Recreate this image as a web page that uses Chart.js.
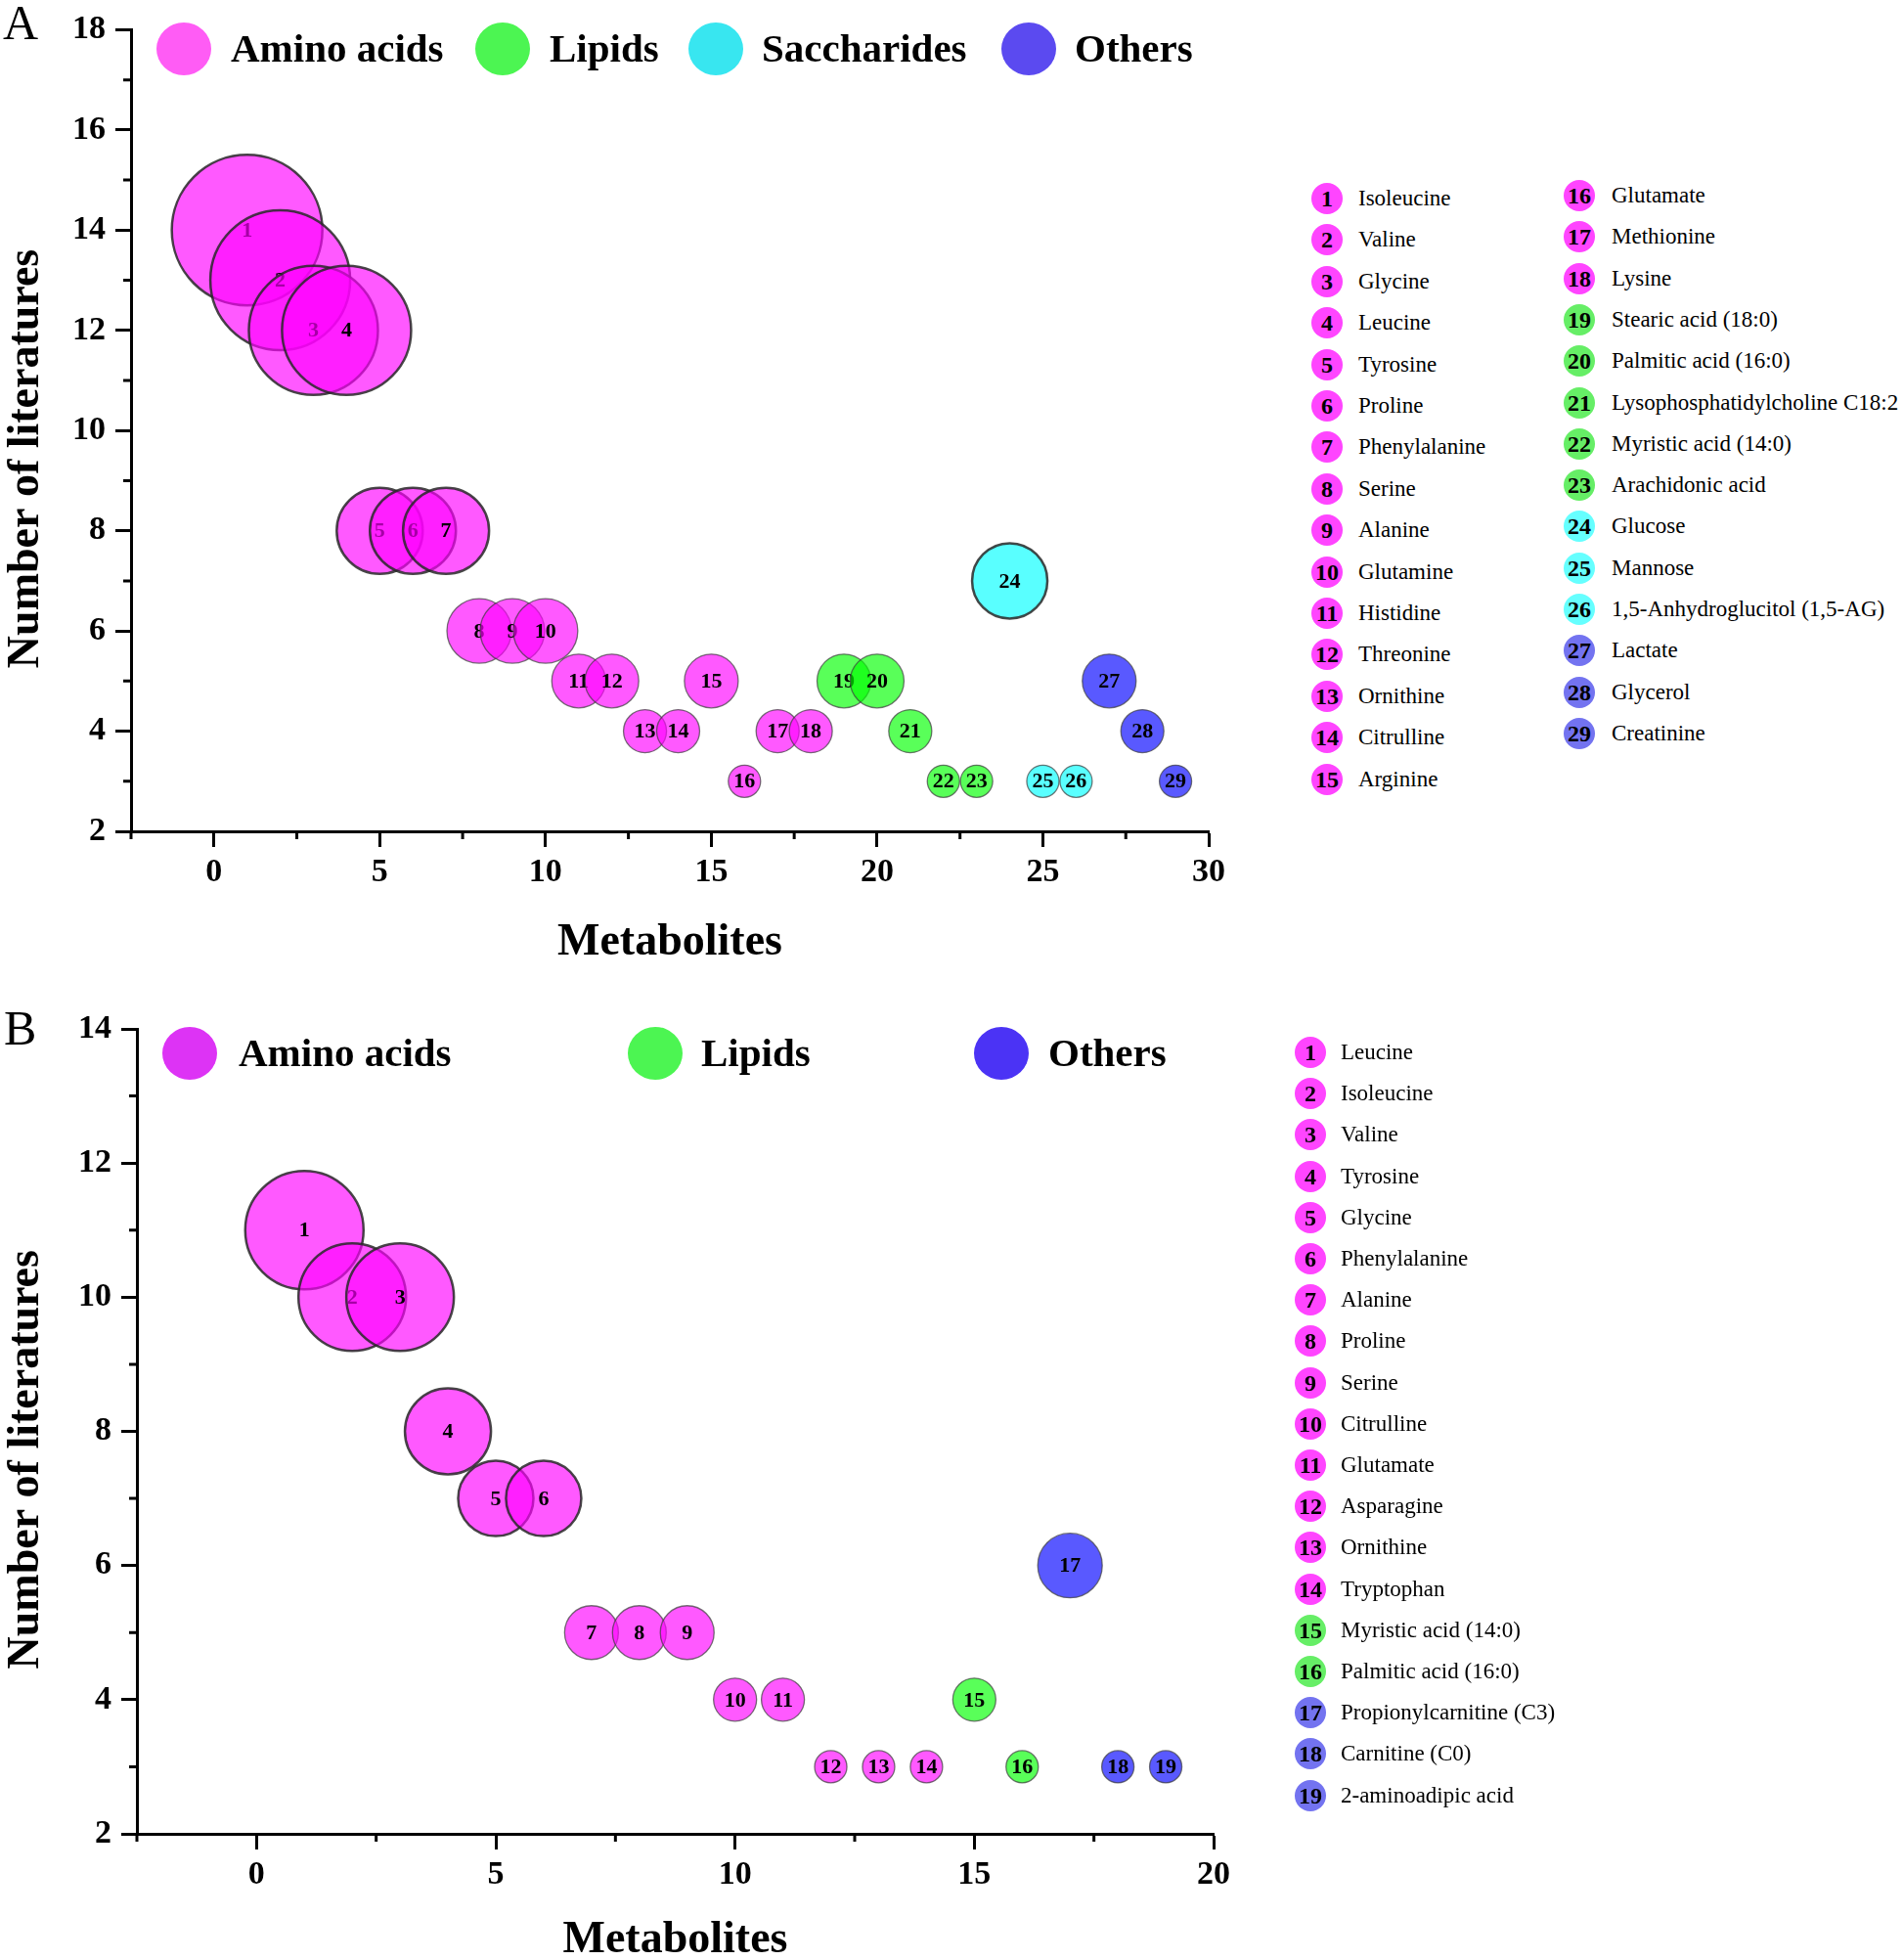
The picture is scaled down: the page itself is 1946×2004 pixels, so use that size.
<!DOCTYPE html>
<html>
<head>
<meta charset="utf-8">
<script src="https://cdn.jsdelivr.net/npm/chart.js@4.4.1/dist/chart.umd.min.js"></script>
<style>
  body { margin: 0; background: #fff; }
  #wrap { position: relative; width: 1946px; height: 2004px; overflow: hidden; font-family: "Liberation Serif", "Times New Roman", serif; color: #000; }
  canvas { position: absolute; left: 0; }
  .tag { position: absolute; font-size: 50px; line-height: 50px; }
  .key { position: absolute; border-radius: 50%; }
  .keyText { position: absolute; font-size: 41px; font-weight: bold; line-height: 50px; white-space: nowrap; }
  .dot { position: absolute; width: 32px; height: 32px; border-radius: 50%; font-weight: bold; font-size: 24px; line-height: 33px; text-align: center; }
  .name { position: absolute; font-size: 23px; line-height: 32px; white-space: nowrap; }
</style>
</head>
<body>
<div id="wrap">
  <canvas id="chartA" width="1300" height="1010" style="top:0px"></canvas>
  <canvas id="chartB" width="1300" height="1010" style="top:1020px"></canvas>
  <div class="tag" style="left:3px;top:-2px">A</div>
  <div class="tag" style="left:4px;top:1026px">B</div>
</div>
<script>
// ---- data ----
const categories = ['Amino acids', 'Lipids', 'Saccharides', 'Others'];

const namesA = ['Isoleucine', 'Valine', 'Glycine', 'Leucine', 'Tyrosine', 'Proline', 'Phenylalanine',
  'Serine', 'Alanine', 'Glutamine', 'Histidine', 'Threonine', 'Ornithine', 'Citrulline', 'Arginine',
  'Glutamate', 'Methionine', 'Lysine', 'Stearic acid (18:0)', 'Palmitic acid (16:0)',
  'Lysophosphatidylcholine C18:2', 'Myristic acid (14:0)', 'Arachidonic acid', 'Glucose', 'Mannose',
  '1,5-Anhydroglucitol (1,5-AG)', 'Lactate', 'Glycerol', 'Creatinine'];
const groupsA = [0,0,0,0,0,0,0,0,0,0,0,0,0,0,0,0,0,0,1,1,1,1,1,2,2,2,3,3,3];
const countsA = [14,13,12,12,8,8,8,6,6,6,5,5,4,4,5,3,4,4,5,5,4,3,3,7,3,3,5,4,3];

const namesB = ['Leucine', 'Isoleucine', 'Valine', 'Tyrosine', 'Glycine', 'Phenylalanine', 'Alanine',
  'Proline', 'Serine', 'Citrulline', 'Glutamate', 'Asparagine', 'Ornithine', 'Tryptophan',
  'Myristic acid (14:0)', 'Palmitic acid (16:0)', 'Propionylcarnitine (C3)', 'Carnitine (C0)',
  '2-aminoadipic acid'];
const groupsB = [0,0,0,0,0,0,0,0,0,0,0,0,0,0,1,1,3,3,3];
const countsB = [11,10,10,8,7,7,5,5,5,4,4,3,3,3,4,3,6,3,3];

const xTicksA = [0, 5, 10, 15, 20, 25, 30];
const xMinorA = [-2.5, 2.5, 7.5, 12.5, 17.5, 22.5, 27.5];
const yTicksA = [2, 4, 6, 8, 10, 12, 14, 16, 18];
const yMinorA = [3, 5, 7, 9, 11, 13, 15, 17];

const xTicksB = [0, 5, 10, 15, 20];
const xMinorB = [-2.5, 2.5, 7.5, 12.5, 17.5];
const yTicksB = [2, 4, 6, 8, 10, 12, 14];
const yMinorB = [3, 5, 7, 9, 11, 13];

// ---- styles ----
const FONT = '"Liberation Serif", "Times New Roman", serif';
const bubbleFill = ['rgba(255,0,255,0.65)', 'rgba(0,255,0,0.65)', 'rgba(0,255,255,0.65)', 'rgba(0,0,255,0.65)'];
const dotFill = ['#ff45ff', '#66ee66', '#66ffff', '#7373f0'];
const PX_PER_COUNT = 5.5;

// number written in the middle of each bubble, right after that bubble is drawn
const bubbleText = {
  id: 'bubbleText',
  afterDatasetDraw(chart, args) {
    const pt = args.meta.data[0];
    if (!pt) return;
    const ctx = chart.ctx;
    ctx.save();
    ctx.font = 'bold 22px ' + FONT;
    ctx.fillStyle = '#000';
    ctx.textAlign = 'center';
    ctx.textBaseline = 'middle';
    ctx.fillText(chart.data.datasets[args.index].label, pt.x, pt.y + 1);
    ctx.restore();
  }
};

// short minor ticks between the labelled ones
const minorTicks = {
  id: 'minorTicks',
  afterDraw(chart, args, opts) {
    const ctx = chart.ctx;
    const { x, y } = chart.scales;
    ctx.save();
    ctx.strokeStyle = '#000';
    ctx.lineWidth = 3;
    ctx.beginPath();
    opts.x.forEach(v => {
      const px = x.getPixelForValue(v);
      ctx.moveTo(px, y.bottom);
      ctx.lineTo(px, y.bottom + 8);
    });
    opts.y.forEach(v => {
      const py = y.getPixelForValue(v);
      ctx.moveTo(x.left, py);
      ctx.lineTo(x.left - 8, py);
    });
    ctx.stroke();
    ctx.restore();
  }
};

function makePanel(id, counts, groups, cfg) {
  const datasets = counts.map((v, i) => ({
    label: String(i + 1),
    data: [{ x: i + 1, y: v, r: v * PX_PER_COUNT }],
    backgroundColor: bubbleFill[groups[i]],
    borderColor: v >= 7 ? 'rgba(40,40,40,0.85)' : 'rgba(60,60,60,0.7)',
    borderWidth: v >= 7 ? 2.5 : 1.3,
    order: -(i + 1),
    clip: false
  }));

  const tickFont = { family: FONT, size: 34, weight: 'bold' };
  const titleFont = { family: FONT, size: 46, weight: 'bold' };

  return new Chart(document.getElementById(id), {
    type: 'bubble',
    data: { datasets },
    plugins: [bubbleText, minorTicks],
    options: {
      responsive: false,
      animation: false,
      events: [],
      layout: { autoPadding: false, padding: { left: 0, top: cfg.top, right: cfg.right, bottom: 0 } },
      plugins: {
        legend: { display: false },
        tooltip: { enabled: false },
        minorTicks: { x: cfg.xMinor, y: cfg.yMinor }
      },
      scales: {
        x: {
          type: 'linear',
          min: -2.5,
          max: cfg.xMax,
          afterBuildTicks: s => { s.ticks = cfg.xTicks.map(v => ({ value: v })); },
          afterFit: s => { s.height = cfg.xHeight; },
          grid: { drawOnChartArea: false, tickLength: 16, tickWidth: 3, tickColor: '#000' },
          border: { color: '#000', width: 3 },
          ticks: { color: '#000', font: tickFont, padding: 6, maxRotation: 0 },
          title: { display: true, text: 'Metabolites', color: '#000', font: titleFont, padding: { top: 0, bottom: 18 } }
        },
        y: {
          type: 'linear',
          min: cfg.yTicks[0],
          max: cfg.yTicks[cfg.yTicks.length - 1],
          afterBuildTicks: s => { s.ticks = cfg.yTicks.map(v => ({ value: v })); },
          afterFit: s => { s.width = cfg.yWidth; },
          grid: { drawOnChartArea: false, tickLength: 16, tickWidth: 3, tickColor: '#000' },
          border: { color: '#000', width: 3 },
          ticks: { color: '#000', font: tickFont, padding: 10 },
          title: { display: true, text: 'Number of literatures\u00a0\u00a0\u00a0\u00a0\u00a0', color: '#000', font: titleFont, padding: 0 }
        }
      }
    }
  });
}

makePanel('chartA', countsA, groupsA, {
  top: 28, right: 64, xMax: 30, xHeight: 160, yWidth: 134,
  xTicks: xTicksA, xMinor: xMinorA, yTicks: yTicksA, yMinor: yMinorA
});
makePanel('chartB', countsB, groupsB, {
  top: 32, right: 59, xMax: 20, xHeight: 155, yWidth: 140,
  xTicks: xTicksB, xMinor: xMinorB, yTicks: yTicksB, yMinor: yMinorB
});

// ---- category keys inside the plots and numbered lists on the right ----
const wrap = document.getElementById('wrap');
function add(cls, css, text) {
  const d = document.createElement('div');
  d.className = cls;
  Object.assign(d.style, css);
  if (text !== undefined) d.textContent = text;
  wrap.appendChild(d);
  return d;
}

function categoryKeys(items, y) {
  items.forEach(k => {
    add('key', { left: (k.cx - 28) + 'px', top: (y - 27) + 'px', width: '56px', height: '54px', background: k.color });
    add('keyText', { left: k.tx + 'px', top: (y - 26) + 'px' }, categories[k.cat]);
  });
}
categoryKeys([
  { cat: 0, cx: 188, tx: 236, color: '#ff5cf5' },
  { cat: 1, cx: 514, tx: 562, color: '#4cf552' },
  { cat: 2, cx: 732, tx: 779, color: '#38e6f0' },
  { cat: 3, cx: 1052, tx: 1099, color: '#5b4af0' }
], 50);
categoryKeys([
  { cat: 0, cx: 194, tx: 244, color: '#dd33f5' },
  { cat: 1, cx: 670, tx: 717, color: '#4cf552' },
  { cat: 3, cx: 1024, tx: 1072, color: '#4b33f5' }
], 1077);

function numberedList(names, groups, from, to, cx, tx, y0, dy) {
  for (let i = from; i < to; i++) {
    const y = y0 + (i - from) * dy;
    add('dot', { left: (cx - 16) + 'px', top: (y - 16) + 'px', background: dotFill[groups[i]] }, String(i + 1));
    add('name', { left: tx + 'px', top: (y - 16) + 'px' }, names[i]);
  }
}
numberedList(namesA, groupsA, 0, 15, 1357, 1389, 203, 42.4);
numberedList(namesA, groupsA, 15, 29, 1615, 1648, 200, 42.3);
numberedList(namesB, groupsB, 0, 19, 1340, 1371, 1076, 42.2);
</script>
</body>
</html>
